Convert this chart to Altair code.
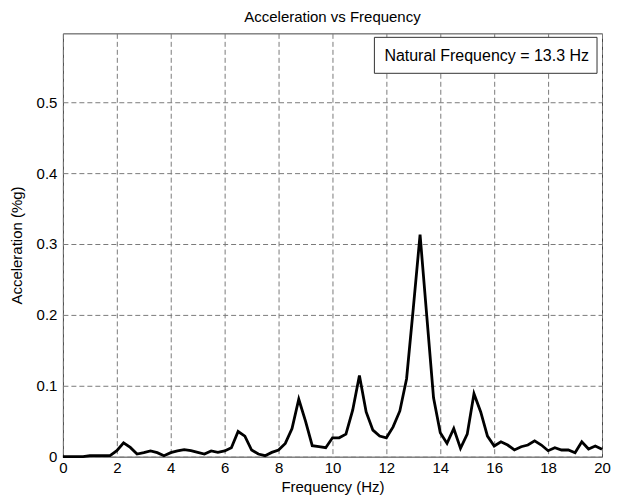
import altair as alt
import pandas as pd

# Frequency grid (Hz), 0.25 Hz spacing
frequency = [i * 0.25 for i in range(81)]

# Acceleration (%g)
acceleration = [
    0.0, 0.0, 0.0, 0.0, 0.0014, 0.0014, 0.0014, 0.0014,          # 0 - 1.75
    0.0084, 0.0196, 0.013, 0.0037, 0.0056, 0.008, 0.0056, 0.0014,  # 2 - 3.75
    0.0056, 0.008, 0.0098, 0.0084, 0.006, 0.0037, 0.008, 0.006,    # 4 - 5.75
    0.008, 0.0126, 0.0355, 0.029, 0.0094, 0.0037, 0.0014, 0.006,   # 6 - 7.75
    0.0094, 0.0187, 0.0397, 0.081, 0.05, 0.0154, 0.014, 0.0126,    # 8 - 9.75
    0.0266, 0.0266, 0.0318, 0.0655, 0.1145, 0.063, 0.0374, 0.029,  # 10 - 11.75
    0.0266, 0.042, 0.0645, 0.11, 0.21, 0.313, 0.198, 0.083,        # 12 - 13.75
    0.0337, 0.0187, 0.0397, 0.0117, 0.0318, 0.0888, 0.063, 0.029,  # 14 - 15.75
    0.015, 0.021, 0.0164, 0.0094, 0.014, 0.0164, 0.0224, 0.0164,   # 16 - 17.75
    0.0084, 0.0126, 0.0094, 0.0094, 0.0056, 0.021, 0.0108, 0.015,  # 18 - 19.75
    0.0103,                                                        # 20
]

legend_label = "Natural Frequency = 13.3 Hz"
x_ticks = [0, 2, 4, 6, 8, 10, 12, 14, 16, 18, 20]
y_ticks = [0, 0.1, 0.2, 0.3, 0.4, 0.5]

df = pd.DataFrame({"Frequency": frequency, "Acceleration": acceleration})
legend_df = pd.DataFrame({"label": [legend_label]})

FONT = "Liberation Sans"
GRID = "#7a7a7a"

line = alt.Chart(df).mark_line(color="black", strokeWidth=2.8, strokeJoin="miter").encode(
    x=alt.X(
        "Frequency:Q",
        scale=alt.Scale(domain=[0, 20], nice=False, zero=False),
        axis=alt.Axis(
            values=x_ticks, title="Frequency (Hz)", format="~g",
            grid=True, gridDash=[5, 3], gridColor=GRID, gridWidth=1, gridOpacity=1,
            ticks=False, domain=False, labelPadding=4, titlePadding=4, labelFlush=False,
            labelFont=FONT, labelFontSize=15, labelColor="black",
            titleFont=FONT, titleFontSize=15, titleColor="black", titleFontWeight="normal",
        ),
    ),
    y=alt.Y(
        "Acceleration:Q",
        scale=alt.Scale(domain=[0, 0.597], nice=False, zero=True),
        axis=alt.Axis(
            values=y_ticks, title="Acceleration (%g)", format="~g",
            grid=True, gridDash=[5, 3], gridColor=GRID, gridWidth=1, gridOpacity=1,
            ticks=False, domain=False, labelPadding=6, titlePadding=12,
            labelFont=FONT, labelFontSize=15, labelColor="black",
            titleFont=FONT, titleFontSize=15, titleColor="black", titleFontWeight="normal",
        ),
    ),
)

legend_box = alt.Chart(legend_df).mark_rect(
    fill="white", stroke="#333333", strokeWidth=1
).encode(
    x=alt.value(312), x2=alt.value(535), y=alt.value(4), y2=alt.value(40),
)

legend_text = alt.Chart(legend_df).mark_text(
    align="left", baseline="middle", font=FONT, fontSize=16, color="black"
).encode(
    x=alt.value(322), y=alt.value(22.5), text="label:N",
)

chart = alt.layer(line, legend_box, legend_text).properties(
    width=540,
    height=424,
    background="white",
    title=alt.TitleParams("Acceleration vs Frequency", fontSize=15, font=FONT,
                          fontWeight="normal", color="black", offset=8),
    padding={"left": 55, "top": 25, "right": 9, "bottom": 40},
    autosize=alt.AutoSizeParams(type="none"),
).configure_view(
    stroke="#444444", strokeWidth=1,
)

chart.save("out.html", embed_options={"renderer": "svg", "actions": False})
